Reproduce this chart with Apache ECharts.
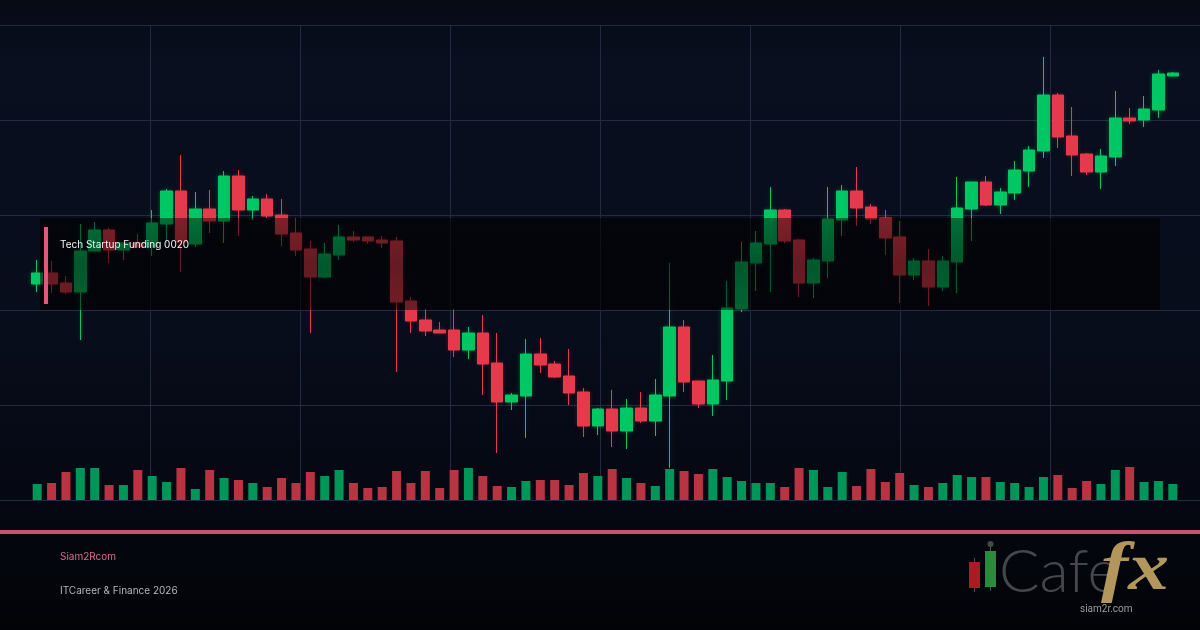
<!DOCTYPE html>
<html>
<head>
<meta charset="utf-8" />
<title>Tech Startup Funding 0020</title>
<script src="https://cdn.jsdelivr.net/npm/echarts@6/dist/echarts.min.js"></script>
<style>
    html, body { margin: 0; padding: 0; background: #05080f; }
    #main { width: 1200px; height: 630px; }
</style>
</head>
<body>
<div id="main"></div>
<script type="text/javascript">
// values
var opens = [216,227,217,208,249,270,250,257,253,276,309,256,291,279,324,290,301,285,267,251,
    223,245,263,263,260,259,199,180,170,170,150,167,137,98,104,146,136,124,108,74,
    91,69,92,79,104,173,119,96,119,191,237,256,290,260,217,239,280,309,293,282,
    263,225,239,213,238,291,318,295,307,329,349,405,364,346,328,343,382,380,390,424];
var closes = [227,216,208,249,270,250,257,253,277,309,258,291,279,324,290,301,284,266,250,223,
    246,263,260,259,257,198,179,169,167,150,167,136,98,105,146,135,123,107,74,91,
    69,92,79,105,173,118,96,120,192,238,257,290,259,217,240,281,309,292,281,262,
    225,239,213,239,292,318,295,308,330,350,405,363,345,328,344,382,379,391,426,427];
var lows = [208,207,206,160,249,237,240,253,244,257,228,253,267,257,264,280,282,254,244,167,
    222,240,258,256,252,128,167,164,167,143,141,105,47,90,62,127,122,95,63,65,
    53,51,77,64,32,108,92,84,100,188,209,208,257,203,202,222,264,274,276,245,
    197,220,194,209,207,259,294,286,300,313,342,352,324,325,311,334,376,373,382,424];
var highs = [240,239,224,276,278,272,257,266,290,311,345,308,310,329,330,304,306,301,282,259,
    257,275,269,263,264,263,203,191,178,191,173,185,167,107,161,162,139,151,112,92,
    110,101,108,121,237,180,119,145,219,258,269,313,291,261,242,313,315,333,296,290,
    279,242,251,244,323,318,324,312,339,354,443,407,393,347,351,409,392,404,430,428];
var volumes = [16,17,28,32,32,15,15,30,24,18,32,11,30,22,20,17,13,22,17,28,
    24,30,17,12,13,29,17,29,12,30,32,24,14,13,19,20,20,15,27,24,
    31,22,17,14,31,29,26,31,23,19,17,17,13,32,30,13,28,14,31,18,
    27,15,13,17,25,23,23,18,17,13,23,25,12,19,16,30,33,18,19,16];

var titleText = 'Tech Startup Funding 0020';
var brandText = 'Siam2Rcom';
var footerText = 'ITCareer & Finance 2026';
var logoUrl = 'siam2r.com';

var UP = '#00c864';
var DOWN = '#e63b4d';
var UP_VOL = '#00965a';
var DOWN_VOL = '#b93442';
var PINK = '#c9536f';

var categories = opens.map(function (v, i) { return i; });

var candleData = opens.map(function (o, i) {
    var up = closes[i] >= o;
    return {
        value: [o, closes[i], lows[i], highs[i]],
        itemStyle: {
            shadowBlur: 5,
            shadowColor: up ? 'rgba(0,200,100,0.3)' : 'rgba(230,59,77,0.25)'
        }
    };
});
var volumeData = volumes.map(function (v, i) {
    return { value: v, itemStyle: { color: closes[i] >= opens[i] ? UP_VOL : DOWN_VOL } };
});

var myChart = echarts.init(document.getElementById('main'), null, { renderer: 'canvas' });

var gridLine = { show: true, lineStyle: { color: '#232b42', width: 1 } };

var option = {
    animation: false,
    backgroundColor: new echarts.graphic.LinearGradient(0, 0, 0, 1, [
        { offset: 0, color: '#060a15' },
        { offset: 0.1, color: '#090f1f' },
        { offset: 0.5, color: '#080d1c' },
        { offset: 0.8, color: '#050812' },
        { offset: 1, color: '#020307' }
    ]),
    grid: [
        { left: 0, width: 1200, top: 25, height: 475 },
        { left: 30, width: 1150, top: 25, height: 475 },
        { left: 30, width: 1150, top: 460, height: 40 }
    ],
    xAxis: [
        { type: 'value', gridIndex: 0, min: 0, max: 1200, interval: 150, axisLine: { show: false },
            axisTick: { show: false }, axisLabel: { show: false },
            splitLine: { show: true, showMinLine: false, showMaxLine: false, lineStyle: gridLine.lineStyle } },
        { type: 'category', gridIndex: 1, data: categories, show: false },
        { type: 'category', gridIndex: 2, data: categories, show: false }
    ],
    yAxis: [
        { type: 'value', gridIndex: 0, min: 0, max: 475, interval: 95, axisLine: { show: false },
            axisTick: { show: false }, axisLabel: { show: false }, splitLine: gridLine },
        { type: 'value', gridIndex: 1, min: 0, max: 475, show: false, splitLine: { show: false } },
        { type: 'value', gridIndex: 2, min: 0, max: 40, show: false, splitLine: { show: false } }
    ],
    series: [
        {
            type: 'candlestick',
            xAxisIndex: 1,
            yAxisIndex: 1,
            z: 5,
            barWidth: 12,
            data: candleData,
            itemStyle: { color: UP, color0: DOWN, borderColor: UP, borderColor0: DOWN, borderWidth: 1 }
        },
        {
            type: 'bar',
            xAxisIndex: 2,
            yAxisIndex: 2,
            z: 5,
            barWidth: 9,
            data: volumeData
        }
    ],
    graphic: [
        // caption panel: one dark layer under the candles, one over them
        { type: 'rect', z: 1, shape: { x: 40, y: 218, width: 1120, height: 92 },
            style: { fill: 'rgba(0,0,0,0.25)' } },
        { type: 'rect', z: 100, shape: { x: 40, y: 218, width: 1120, height: 92 },
            style: { fill: new echarts.graphic.LinearGradient(0, 0, 0, 1, [
                { offset: 0, color: 'rgba(0,0,0,0.45)' },
                { offset: 0.5, color: 'rgba(0,0,0,0.56)' },
                { offset: 1, color: 'rgba(0,0,0,0.5)' }
            ]) } },
        { type: 'rect', z: 101, shape: { x: 44, y: 227, width: 4, height: 77 }, style: { fill: '#e2587a' } },
        { type: 'text', z: 102, x: 60, y: 240, style: { text: titleText, fill: '#f2f2f2', font: '10px Inter' } },

        // footer
        { type: 'rect', z: 100, shape: { x: 0, y: 530, width: 1200, height: 4 }, style: { fill: PINK } },
        { type: 'text', z: 102, x: 60, y: 552, style: { text: brandText, fill: '#df6a8a', font: '10px Inter' } },
        { type: 'text', z: 102, x: 60, y: 586, style: { text: footerText, fill: '#b4b6bc', font: '10px Inter' } },

        // logo
        { type: 'rect', z: 100, shape: { x: 974, y: 558, width: 1, height: 34 }, style: { fill: '#5a4a4a' } },
        { type: 'rect', z: 101, shape: { x: 969, y: 562, width: 11, height: 26 }, style: { fill: '#a81c24' } },
        { type: 'rect', z: 100, shape: { x: 990, y: 545, width: 1, height: 46 }, style: { fill: '#4a5a4a' } },
        { type: 'circle', z: 100, shape: { cx: 990.5, cy: 544, r: 3 }, style: { fill: '#444a48' } },
        { type: 'rect', z: 101, shape: { x: 985, y: 551, width: 11, height: 36 }, style: { fill: '#2a8a3e' } },
        { type: 'text', z: 102, x: 999, y: 543, style: { text: 'Cafe', fill: '#46474b', font: '300 60px Lato' } },
        { type: 'text', z: 103, x: 1101, y: 537, scaleX: 1.2, style: { text: 'fx', fill: '#b2965c', font: 'italic bold 68px "Liberation Serif"' } },
        { type: 'text', z: 104, x: 1080, y: 604, style: { text: logoUrl, fill: '#9a9ca2', font: '10px Roboto' } }
    ]
};
myChart.setOption(option);
</script>
</body>
</html>
